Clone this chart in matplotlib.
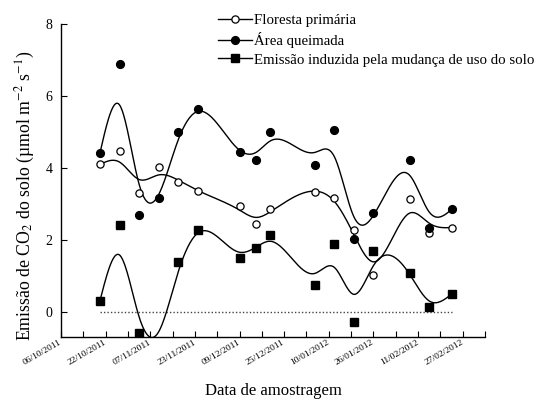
import numpy as np
import pandas as pd
import matplotlib
matplotlib.use("Agg")
import matplotlib.pyplot as plt
import matplotlib.dates as mdates
from matplotlib.lines import Line2D

plt.rcParams['font.family'] = ['Liberation Serif', 'DejaVu Serif']
plt.rcParams['mathtext.fontset'] = 'stix'

datas = ['20/10/2011', '27/10/2011', '03/11/2011', '10/11/2011', '17/11/2011',
         '24/11/2011', '09/12/2011', '15/12/2011', '20/12/2011', '05/01/2012',
         '12/01/2012', '19/01/2012', '26/01/2012', '08/02/2012', '15/02/2012',
         '23/02/2012']
floresta = [4.10, 4.47, 3.30, 4.04, 3.62, 3.36, 2.94, 2.44, 2.86, 3.34,
            3.17, 2.28, 1.03, 3.14, 2.21, 2.35]
queimada = [4.42, 6.90, 2.71, 3.16, 5.01, 5.64, 4.45, 4.22, 5.01, 4.08,
            5.07, 2.02, 2.74, 4.22, 2.35, 2.85]

dates = pd.to_datetime(datas, format='%d/%m/%Y')
x = mdates.date2num(dates)
fl = np.array(floresta)
qu = np.array(queimada)
induzida = qu - fl


def smooth(x, y, lam, end_w=40.0, h=0.25):
    # penalised (smoothing) spline on a fine grid, ends held close to the data
    grid = np.arange(x[0], x[-1] + h / 2, h)
    n = len(grid)
    w = np.ones(len(x))
    w[0] = w[-1] = end_w
    W = np.zeros((len(x), n))
    idx = np.round((x - x[0]) / h).astype(int)
    W[np.arange(len(x)), idx] = 1.0
    D = np.diff(np.eye(n), 2, axis=0)
    A = W.T @ (w[:, None] * W) + (lam / h**3) * (D.T @ D)
    f = np.linalg.solve(A, W.T @ (w * y))
    return grid, f


gx, f_fl = smooth(x, fl, 28.0)
gx, f_qu = smooth(x, qu, 24.0)
f_in = f_qu - f_fl

fig = plt.figure(figsize=(5.4, 4.01), dpi=100)
ax = fig.add_axes([61 / 540, 1 - 337 / 401, (485 - 61) / 540, (337 - 24) / 401])

ax.plot([x[0], x[-1]], [0, 0], color='#444444', lw=1.0, ls=(0, (1, 1.5)))

ax.plot(gx, f_fl, color='k', lw=1.0)
ax.plot(gx, f_qu, color='k', lw=1.0)
ax.plot(gx, f_in, color='k', lw=1.0)

ax.plot(x, fl, 'o', ms=5.2, mfc='white', mec='k', mew=0.9, ls='none')
ax.plot(x, qu, 'o', ms=5.6, mfc='k', mec='k', ls='none')
ax.plot(x, induzida, 's', ms=5.2, mfc='k', mec='k', ls='none')

x0 = mdates.date2num(pd.Timestamp('2011-10-06'))
x1 = mdates.date2num(pd.Timestamp('2012-03-06'))
ax.set_xlim(x0, x1)
ax.set_ylim(-0.69, 8)

major = pd.date_range('2011-10-06', '2012-02-27', freq='16D')
minor = pd.date_range('2011-10-06', '2012-03-06', freq='8D')
ax.set_xticks(mdates.date2num(major))
ax.set_xticks(mdates.date2num(minor), minor=True)
ax.set_xticklabels([d.strftime('%d/%m/%Y') for d in major], rotation=30,
                   ha='right', va='center', rotation_mode='anchor', fontsize=6.8)
ax.set_yticks([0, 2, 4, 6, 8])
ax.tick_params(axis='both', direction='in', length=4, width=0.8)
ax.tick_params(axis='x', which='minor', direction='in', length=4, width=0.8)
ax.tick_params(axis='x', pad=3.5)
ax.tick_params(axis='y', pad=6, labelsize=10)

for s in ['top', 'right']:
    ax.spines[s].set_visible(False)
for s in ['left', 'bottom']:
    ax.spines[s].set_linewidth(1.0)

ax.set_xlabel('Data de amostragem', fontsize=12)
ax.xaxis.set_label_coords(0.5, (337 - 383) / 313)
ax.set_ylabel('Emissão de CO$_2$ do solo (µmol m$^{-2}$ s$^{-1}$)', fontsize=12.8)
ax.yaxis.set_label_coords((37 - 61) / 424, (337 - 196) / 313)

handles = [
    Line2D([], [], color='k', lw=1.0, marker='o', ms=5.2, mfc='white', mec='k', mew=0.9),
    Line2D([], [], color='k', lw=1.0, marker='o', ms=5.6, mfc='k', mec='k'),
    Line2D([], [], color='k', lw=1.0, marker='s', ms=5.2, mfc='k', mec='k'),
]
labels = ['Floresta primária', 'Área queimada', 'Emissão induzida pela mudança de uso do solo']
fig.legend(handles, labels, loc='upper left', bbox_to_anchor=(218 / 540, 1 - 14 / 401),
           frameon=False, fontsize=10.7, handlelength=2.3, handletextpad=0.15,
           borderpad=0, borderaxespad=0, labelspacing=0.33)

fig.savefig('out.png', dpi=100)
